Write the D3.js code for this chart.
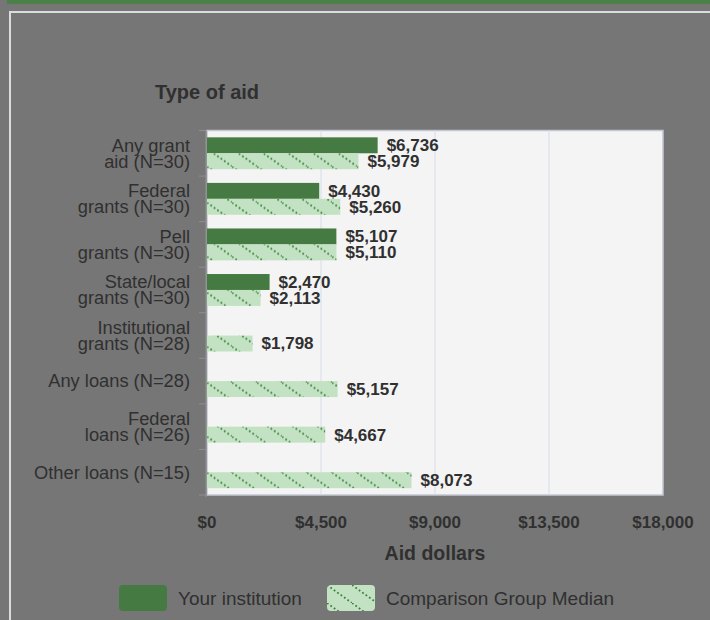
<!DOCTYPE html>
<html>
<head>
<meta charset="utf-8">
<script src="https://cdn.jsdelivr.net/npm/d3@7"></script>
<style>
  body { margin: 0; background: #767676; }
  svg { display: block; font-family: "Liberation Sans", Arial, sans-serif; }
</style>
</head>
<body>
<script>
// chart data
const categories = [
    ["Any grant", "aid (N=30)"],
    ["Federal", "grants (N=30)"],
    ["Pell", "grants (N=30)"],
    ["State/local", "grants (N=30)"],
    ["Institutional", "grants (N=28)"],
    ["Any loans (N=28)"],
    ["Federal", "loans (N=26)"],
    ["Other loans (N=15)"]
];
const institutionValues = [6736, 4430, 5107, 2470, null, null, null, null];
const comparisonValues = [5979, 5260, 5110, 2113, 1798, 5157, 4667, 8073];
const xTicks = [0, 4500, 9000, 13500, 18000];
const seriesNames = ["Your institution", "Comparison Group Median"];

const width = 710, height = 620;
const margin = { top: 130.5, left: 207, right: 47, bottom: 125 };
const textColor = "#303030";
const darkGreen = "#467a43";
const lightGreen = "#c3e2c3";

const svg = d3.select("body").append("svg")
    .attr("width", width)
    .attr("height", height);

// pattern for the comparison bars
const defs = svg.append("defs");
const pat = defs.append("pattern")
    .attr("id", "dots")
    .attr("patternUnits", "userSpaceOnUse")
    .attr("width", 25)
    .attr("height", 18);
pat.append("rect").attr("width", 25).attr("height", 18).attr("fill", lightGreen);
pat.append("line")
    .attr("x1", 0).attr("y1", 0).attr("x2", 25).attr("y2", 18)
    .attr("stroke", "#3a823a")
    .attr("stroke-width", 1.8)
    .attr("stroke-dasharray", "1.8,2.4");

// page frame
svg.append("rect").attr("x", 7).attr("y", 0).attr("width", 710).attr("height", 4).attr("fill", "#4b8049");
svg.append("rect")
    .attr("x", 10).attr("y", 12).attr("width", 800).attr("height", 700)
    .attr("fill", "none").attr("stroke", "#dcdcdc").attr("stroke-width", 2);

const plotW = width - margin.left - margin.right;
const plotH = height - margin.top - margin.bottom;

const x = d3.scaleLinear().domain([0, 18000]).range([0, plotW]);
const y = d3.scaleBand()
    .domain(d3.range(categories.length))
    .range([0, plotH])
    .paddingInner(0.3)
    .paddingOuter(0.15);
const ySub = d3.scaleBand().domain([0, 1]).range([0, y.bandwidth()]);

const g = svg.append("g").attr("transform", `translate(${margin.left},${margin.top})`);

// plot background
g.append("rect")
    .attr("width", plotW).attr("height", plotH)
    .attr("fill", "#f4f4f4")
    .attr("stroke", "#c3c7d3").attr("stroke-width", 1.5);

// vertical gridlines
g.selectAll(".grid")
    .data(xTicks.slice(1, -1))
    .enter().append("line")
    .attr("x1", d => x(d)).attr("x2", d => x(d))
    .attr("y1", 0).attr("y2", plotH)
    .attr("stroke", "#d9dcea");

// y axis line and band ticks
g.append("line").attr("x1", -1).attr("x2", -1).attr("y1", 0).attr("y2", plotH + 2)
    .attr("stroke", "#8a8a8a").attr("stroke-width", 1.5);
g.selectAll(".ytick")
    .data(d3.range(categories.length + 1))
    .enter().append("line")
    .attr("x1", -8).attr("x2", -1)
    .attr("y1", d => d * y.step()).attr("y2", d => d * y.step())
    .attr("stroke", "#8f8f8f");

// bars
const rows = categories.map((c, i) => ({ i: i, inst: institutionValues[i], comp: comparisonValues[i] }));

g.selectAll(".inst")
    .data(rows.filter(d => d.inst != null))
    .enter().append("rect")
    .attr("x", 0)
    .attr("y", d => y(d.i) + ySub(0))
    .attr("width", d => x(d.inst))
    .attr("height", ySub.bandwidth())
    .attr("fill", darkGreen);

g.selectAll(".comp")
    .data(rows)
    .enter().append("rect")
    .attr("x", 0)
    .attr("y", d => y(d.i) + ySub(1))
    .attr("width", d => x(d.comp))
    .attr("height", ySub.bandwidth())
    .attr("fill", "url(#dots)");

// value labels
const fmt = d3.format("$,");
g.selectAll(".instLabel")
    .data(rows.filter(d => d.inst != null))
    .enter().append("text")
    .attr("x", d => x(d.inst) + 9)
    .attr("y", d => y(d.i) + ySub(0) + ySub.bandwidth() / 2)
    .attr("dy", "0.35em")
    .attr("font-size", 17).attr("font-weight", "bold")
    .attr("fill", textColor)
    .text(d => fmt(d.inst));
g.selectAll(".compLabel")
    .data(rows)
    .enter().append("text")
    .attr("x", d => x(d.comp) + 9)
    .attr("y", d => y(d.i) + ySub(1) + ySub.bandwidth() / 2)
    .attr("dy", "0.35em")
    .attr("font-size", 17).attr("font-weight", "bold")
    .attr("fill", textColor)
    .text(d => fmt(d.comp));

// category labels
const catText = g.selectAll(".cat")
    .data(categories)
    .enter().append("text")
    .attr("text-anchor", "end")
    .attr("font-size", 18.3)
    .attr("fill", textColor);
catText.each(function(lines, i) {
    const cy = y(i) + y.bandwidth() / 2;
    d3.select(this).selectAll("tspan")
        .data(lines)
        .enter().append("tspan")
        .attr("x", -17)
        .attr("y", (d, j) => cy + (j - (lines.length - 1) / 2) * 16)
        .attr("dy", "0.35em")
        .text(d => d);
});

// x tick labels
g.selectAll(".xlabel")
    .data(xTicks)
    .enter().append("text")
    .attr("x", d => x(d))
    .attr("y", plotH + 27)
    .attr("dy", "0.35em")
    .attr("text-anchor", "middle")
    .attr("font-size", 17).attr("font-weight", "bold")
    .attr("fill", textColor)
    .text(d => fmt(d));

// axis titles
g.append("text")
    .attr("x", plotW / 2).attr("y", plotH + 58).attr("dy", "0.35em")
    .attr("text-anchor", "middle")
    .attr("font-size", 19.5).attr("font-weight", "bold")
    .attr("fill", textColor)
    .text("Aid dollars");
g.append("text")
    .attr("x", 0).attr("y", 92 - margin.top).attr("dy", "0.35em")
    .attr("text-anchor", "middle")
    .attr("font-size", 20).attr("font-weight", "bold")
    .attr("fill", textColor)
    .text("Type of aid");

// legend
const legendX = [119, 327];
const legend = svg.selectAll(".legend")
    .data(seriesNames)
    .enter().append("g")
    .attr("transform", (d, i) => `translate(${legendX[i]},585)`);
legend.append("rect")
    .attr("width", 48).attr("height", 26).attr("rx", 4)
    .attr("fill", (d, i) => i === 0 ? darkGreen : "url(#dots)");
legend.append("text")
    .attr("x", 59).attr("y", 13).attr("dy", "0.35em")
    .attr("font-size", 19)
    .attr("fill", textColor)
    .text(d => d);
</script>
</body>
</html>
